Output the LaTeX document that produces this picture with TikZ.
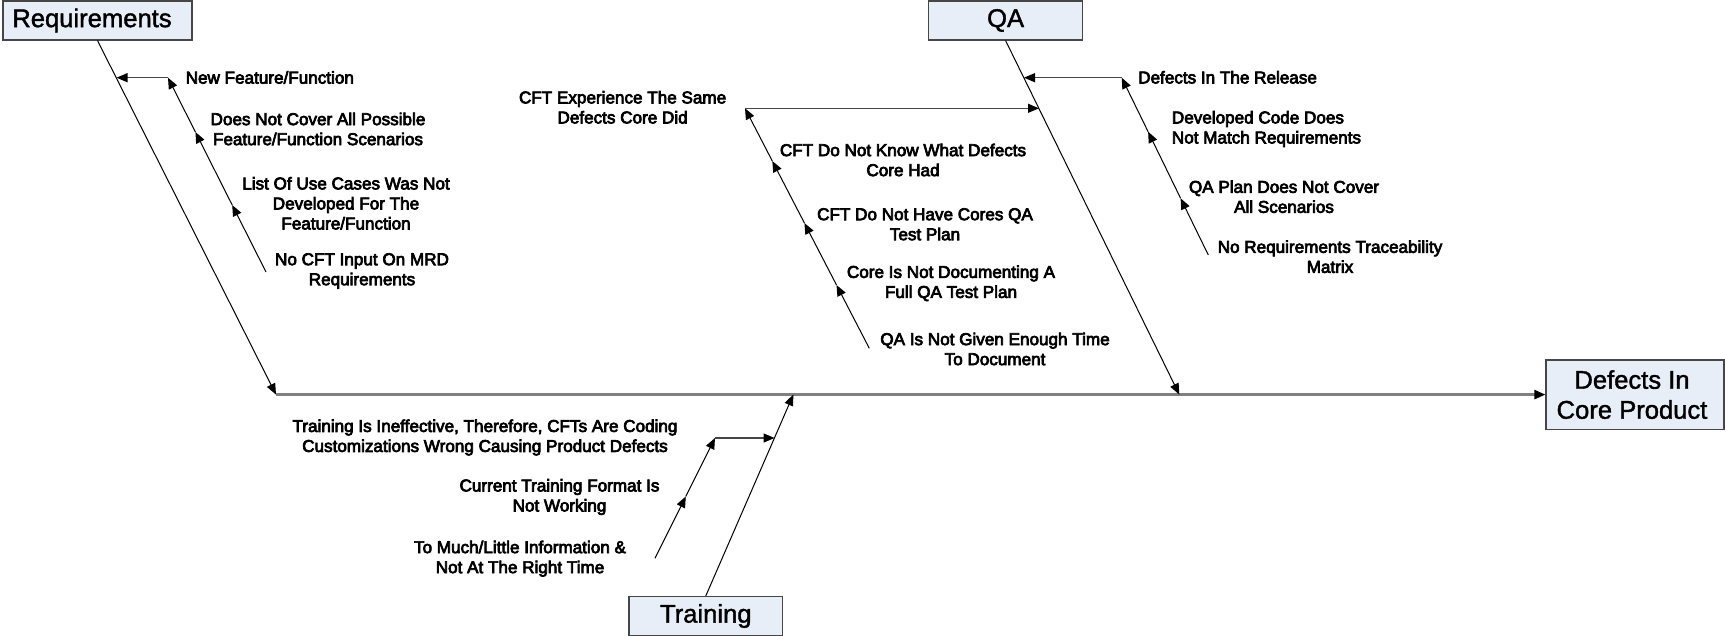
\documentclass[tikz,border=0pt]{standalone}
\usepackage{fontspec}
\setmainfont{Liberation Sans}
\newfontfamily\causefont{Liberation Sans}[FakeBold=4]
\newfontfamily\headfont{Liberation Sans}[FakeBold=1.5]
\usetikzlibrary{arrows.meta}
\definecolor{boxfill}{RGB}{232,238,247}
\definecolor{boxline}{RGB}{70,70,70}
\definecolor{spinegray}{RGB}{128,128,128}
\definecolor{branchgray}{RGB}{70,70,70}
\begin{document}
\begin{tikzpicture}[x=1pt,y=-1pt,
  box/.style={draw=boxline, line width=1.2pt, fill=boxfill, inner sep=0pt,
    align=center, font=\headfont\fontsize{25.6}{30}\selectfont},
  cause/.style={inner sep=0pt, align=center,
    font=\causefont\fontsize{17.1}{20}\selectfont},
  tip/.style={-{Triangle[length=11pt,width=9pt,color=black]}},
  bone/.style={tip, line width=1pt, black},
  branch/.style={tip, line width=1.3pt, branchgray},
  spine/.style={tip, line width=2.4pt, spinegray}
]
\useasboundingbox (0,0) rectangle (1725,636);

% category boxes and the effect
\node[box, minimum width=189pt, minimum height=39pt] (req) at (97.5,20.5) {Requirements\kern11pt};
\node[box, minimum width=154pt, minimum height=39pt] (qa) at (1005.6,20.5) {QA};
\node[box, minimum width=153.7pt, minimum height=39pt] (train) at (705.8,616) {Training};
\node[box, minimum width=178pt, minimum height=69pt] (eff) at (1635,394.6) {Defects In\kern6pt\\Core Product\kern6pt};

% spine and main bones
\coordinate (s0) at (276,394.6);
\coordinate (qaend) at (1179.3,394.6);
\coordinate (trend) at (793.3,394.6);
\draw[spine] (s0) -- (eff.west);
\draw[bone] (req.south) -- (s0);
\draw[bone] (qa.south) -- (qaend);
\draw[bone] (train.north) -- (trend);

% requirements causes
\coordinate (r4) at (266,272);
\coordinate (r3) at (232.2,205);
\coordinate (r2) at (195.4,132);
\coordinate (r1) at (168,77.7);
\coordinate (r0) at (116.5,77.7);
\draw[bone] (r4) -- (r3);
\draw[bone] (r3) -- (r2);
\draw[bone] (r2) -- (r1);
\draw[branch] (r1) -- (r0);
\node[cause, anchor=west] (nf) at (185.5,77.5) {New Feature/Function};
\node[cause] (dnc) at (318,129) {Does Not Cover All Possible\\Feature/Function Scenarios};
\node[cause] (luc) at (346,203.3) {List Of Use Cases Was Not\\Developed For The\\Feature/Function};
\node[cause] (ncf) at (362,271) {No CFT Input On MRD\\Requirements};

% QA causes, left branch
\coordinate (p4) at (869.3,348.3);
\coordinate (p3) at (836.5,285);
\coordinate (p2) at (804.4,223);
\coordinate (p1) at (772.3,161);
\coordinate (p0) at (745,108.3);
\coordinate (pb) at (1039,108.3);
\draw[bone] (p4) -- (p3);
\draw[bone] (p3) -- (p2);
\draw[bone] (p2) -- (p1);
\draw[bone] (p1) -- (p0);
\draw[branch] (p0) -- (pb);
\node[cause] (cfe) at (622.6,107.3) {CFT Experience The Same\\Defects Core Did};
\node[cause] (cfk) at (903,160) {CFT Do Not Know What Defects\\Core Had};
\node[cause] (cfh) at (925,224.3) {CFT Do Not Have Cores QA\\Test Plan};
\node[cause] (cnd) at (951,283.3) {Core Is Not Documenting A\\Full QA Test Plan};
\node[cause] (qnt) at (995,349) {QA Is Not Given Enough Time\\To Document};

% QA causes, right branch
\coordinate (q4) at (1208.3,255);
\coordinate (q3) at (1180.6,198.3);
\coordinate (q2) at (1148.1,131.7);
\coordinate (q1) at (1121.7,77.7);
\coordinate (q0) at (1024,77.7);
\draw[bone] (q4) -- (q3);
\draw[bone] (q3) -- (q2);
\draw[bone] (q2) -- (q1);
\draw[branch] (q1) -- (q0);
\node[cause, anchor=west] (dir) at (1138,77.3) {Defects In The Release};
\node[cause, anchor=west, align=left] (dcd) at (1171.7,129) {Developed Code Does\\Not Match Requirements};
\node[cause] (qpd) at (1284,196.7) {QA Plan Does Not Cover\\All Scenarios};
\node[cause] (nrt) at (1330,256.7) {No Requirements Traceability\\Matrix};

% training causes
\coordinate (t2) at (655,558.3);
\coordinate (t1) at (685.8,496.5);
\coordinate (t0) at (715,438);
\coordinate (tb) at (774.5,438);
\draw[bone] (t2) -- (t1);
\draw[bone] (t1) -- (t0);
\draw[branch] (t0) -- (tb);
\node[cause] (tie) at (485,437.5) {Training Is Ineffective, Therefore, CFTs Are Coding\\Customizations Wrong Causing Product Defects};
\node[cause] (ctf) at (559.5,497) {Current Training Format Is\\Not Working};
\node[cause] (tmi) at (520,558.7) {To Much/Little Information \&\\Not At The Right Time};
\end{tikzpicture}
\end{document}
